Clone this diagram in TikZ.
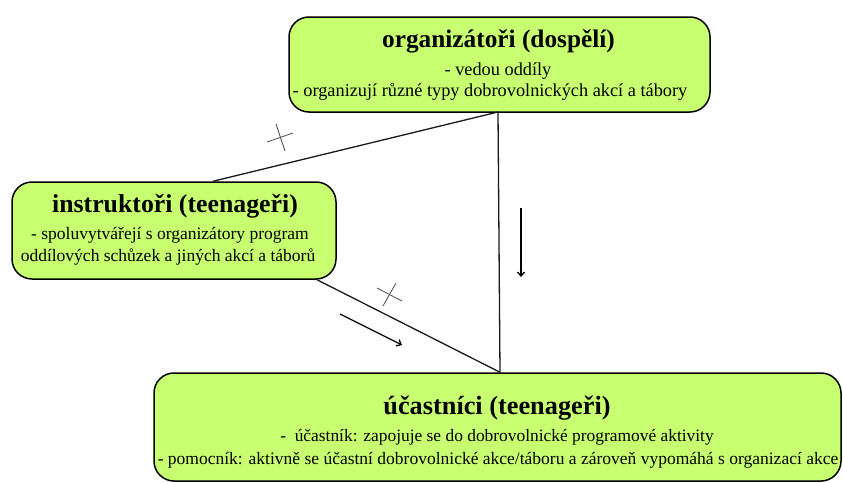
\documentclass[tikz,border=0pt]{standalone}
\usepackage{fontspec}
\setmainfont{Liberation Serif}
\usetikzlibrary{arrows.meta,calc}
\definecolor{boxgreen}{RGB}{200,255,112}
\tikzset{
  greenbox/.style={draw=black, line width=1.5pt, fill=boxgreen, rounded corners=20pt, inner sep=0pt},
  ttl/.style={anchor=base, inner sep=0pt, font=\fontsize{#1}{#1}\selectfont\bfseries},
  body/.style={anchor=base, inner sep=0pt, font=\fontsize{#1}{#1}\selectfont},
  conn/.style={draw=black!90, line width=1.3pt},
  crossmark/.style={draw=black!70, line width=0.8pt},
  flowarrow/.style={draw=black, line width=1.3pt, -{Straight Barb[length=4pt,width=7pt]}}
}
\begin{document}
\begin{tikzpicture}[x=1pt,y=-1pt]
\useasboundingbox (0,0) rectangle (843,482);
% boxes
\node[greenbox, minimum width=421pt, minimum height=95pt] (top) at (499.5,64.5) {};
\node[greenbox, minimum width=324pt, minimum height=97pt] (left) at (174,230.5) {};
\node[greenbox, minimum width=687pt, minimum height=108pt] (bot) at (497.5,427) {};
% texts
\node[ttl=25.3] (topT) at (498.5,47) {organizátoři (dospělí)};
\node[body=18.3] (topA) at (498,75) {- vedou oddíly};
\node[body=18.3] (topB) at (490,96) {- organizují různé typy dobrovolnických akcí a tábory};
\node[ttl=25.8] (leftT) at (175,212) {instruktoři (teenageři)};
\node[body=17.5] (leftA) at (170,239) {- spoluvytvářejí s organizátory program};
\node[body=17.5] (leftB) at (168,261) {oddílových schůzek a jiných akcí a táborů};
\node[ttl=26.3] (botT) at (497,414) {účastníci (teenageři)};
\node[body=17.4] (botA) at (497,441) {-\ \ účastník: zapojuje se do dobrovolnické programové aktivity};
\node[body=17.5] (botB) at (498,464) {- pomocník: aktivně se účastní dobrovolnické akce/táboru a zároveň vypomáhá s organizací akce};
% connectors
\coordinate (apex) at (498,112);
\draw[conn] (apex) -- ([xshift=39pt]left.north);
\draw[conn] (apex) -- ([xshift=2.5pt]bot.north);
\draw[conn] ([xshift=143pt]left.south) -- ([xshift=2.5pt]bot.north);
% crosses
\coordinate (c1a) at (267,142); \coordinate (c1b) at (293,133);
\coordinate (c1c) at (276,124); \coordinate (c1d) at (285,151);
\draw[crossmark] (c1a) -- (c1b);
\draw[crossmark] (c1c) -- (c1d);
\coordinate (c2a) at (377,288); \coordinate (c2b) at (402,301);
\coordinate (c2c) at (396,283); \coordinate (c2d) at (383,306);
\draw[crossmark] (c2a) -- (c2b);
\draw[crossmark] (c2c) -- (c2d);
% arrows
\coordinate (a1s) at (521,208); \coordinate (a1e) at (521,277);
\draw[flowarrow] (a1s) -- (a1e);
\coordinate (a2s) at (340,314); \coordinate (a2e) at (402,345);
\draw[flowarrow] (a2s) -- (a2e);
\end{tikzpicture}
\end{document}
